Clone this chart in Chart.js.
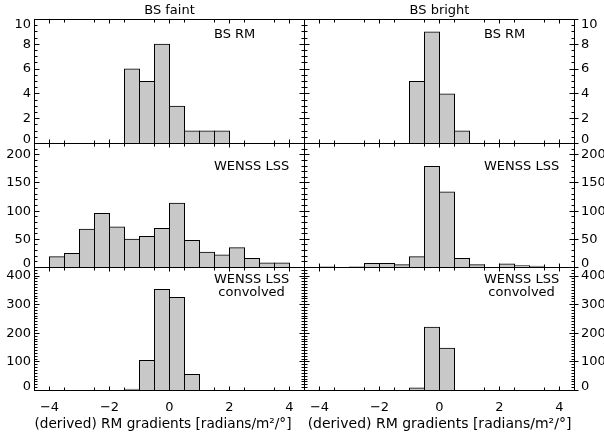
<!DOCTYPE html>
<html>
<head>
<meta charset="utf-8">
<script src="https://cdn.jsdelivr.net/npm/chart.js@4.4.1/dist/chart.umd.min.js"></script>
<style>
  html, body { margin: 0; padding: 0; background: #fff; }
  #wrap { position: relative; width: 604px; height: 437px; }
  #wrap canvas { position: absolute; left: 0; top: 0; }
</style>
</head>
<body>
<div id="wrap"></div>
<script>
// histogram bin centres (bin width 0.5) and counts, one pair per panel
const faintRmBins = [-1.25, -0.75, -0.25, 0.25, 0.75, 1.25, 1.75];
const faintRmCounts = [6, 5, 8, 3, 1, 1, 1];
const brightRmBins = [-0.75, -0.25, 0.25, 0.75];
const brightRmCounts = [5, 9, 4, 1];

const faintLssBins = [-3.75, -3.25, -2.75, -2.25, -1.75, -1.25, -0.75, -0.25,
                      0.25, 0.75, 1.25, 1.75, 2.25, 2.75, 3.25, 3.75];
const faintLssCounts = [19, 25, 68, 96, 72, 50, 55, 69, 114, 48, 27, 22, 35, 16, 8, 8];
const brightLssBins = [-3.75, -2.75, -2.25, -1.75, -1.25, -0.75, -0.25, 0.25,
                       0.75, 1.25, 2.25, 2.75, 3.25];
const brightLssCounts = [1, 1, 7, 7, 5, 19, 179, 134, 16, 5, 6, 3, 2];

const faintConvBins = [-1.25, -0.75, -0.25, 0.25, 0.75];
const faintConvCounts = [4, 105, 353, 325, 56];
const brightConvBins = [-0.75, -0.25, 0.25];
const brightConvCounts = [9, 221, 148];

const columnTitles = ['BS faint', 'BS bright'];
const rowLabels = [['BS RM'], ['WENSS LSS'], ['WENSS LSS', 'convolved']];
const xTitle = '(derived) RM gradients [radians/m²/°]';
const xMin = -4.5, xMax = 4.5;
const xMajorStep = 2, xMinorStep = 1;
const yMax = [10, 220, 430];
const yMajorStep = [2, 50, 100];
const yMinorStep = [0.5, 10, 10];

const FONT = 'DejaVu Sans';
Chart.defaults.font.family = FONT;
Chart.defaults.font.size = 13;
Chart.defaults.color = '#000';

const W = 604, H = 437;
const colEdges = [[34.5, 304.5], [304.5, 574.5]];
const rowEdges = [[19.5, 143.5], [143.5, 267.5], [267.5, 390.5]];

const panels = [
  { row: 0, col: 0, bins: faintRmBins, counts: faintRmCounts },
  { row: 0, col: 1, bins: brightRmBins, counts: brightRmCounts },
  { row: 1, col: 0, bins: faintLssBins, counts: faintLssCounts },
  { row: 1, col: 1, bins: brightLssBins, counts: brightLssCounts },
  { row: 2, col: 0, bins: faintConvBins, counts: faintConvCounts },
  { row: 2, col: 1, bins: brightConvBins, counts: brightConvCounts }
];

function minus(v) {
  return v < 0 ? '\u2212' + (-v) : String(v);
}

// scales get a fixed size so the plot box is set by the layout padding
function fixSize(px) {
  return s => {
    if (s.isHorizontal()) s.height = px; else s.width = px;
    s.paddingLeft = s.paddingRight = s.paddingTop = s.paddingBottom = 0;
  };
}

// one axis edge: tick marks only (negative length = ticks pointing into the plot)
function edge(position, min, max, step, len, size) {
  return {
    type: 'linear', position, min, max, offset: false, weight: size ? 1 : 0,
    afterFit: fixSize(size || 0),
    border: { color: '#000', width: 1 },
    grid: { offset: false, drawOnChartArea: false, drawTicks: true,
            tickLength: len, tickColor: '#000', tickWidth: 1 },
    ticks: { display: false, stepSize: step, autoSkip: false, includeBounds: false, maxRotation: 0 }
  };
}

// labels at the two ends of the y range are nudged inside the box
function yLabelFont(max) {
  return c => {
    const v = c.tick ? c.tick.value : null;
    let lh = 1.2;
    if (v === 0) lh = '8px';
    else if (v === max) lh = '10px';
    return { family: FONT, size: 13, lineHeight: lh };
  };
}
function yLabel(max) {
  return v => {
    const t = String(v);
    if (v === 0) return [t, ''];
    if (v === max) return ['', t];
    return t;
  };
}

const panelText = {
  id: 'panelText',
  afterDraw(chart, args, opts) {
    const { ctx, chartArea: a } = chart;
    ctx.save();
    ctx.font = '13px "' + FONT + '"';
    ctx.fillStyle = '#000';
    ctx.textBaseline = 'middle';
    const x0 = a.left + 179.5;
    const w0 = ctx.measureText(opts.lines[0]).width;
    opts.lines.forEach((t, i) => {
      const w = ctx.measureText(t).width;
      ctx.fillText(t, x0 + (w0 - w) / 2, a.top + opts.dy + i * 13);
    });
    ctx.restore();
  }
};
const textOffsets = [15.5, 23.5, 12.5];

const wrap = document.getElementById('wrap');

panels.forEach(p => {
  const [L, R] = colEdges[p.col];
  const [T, B] = rowEdges[p.row];
  const ymax = yMax[p.row];
  const topSize = p.row === 0 ? T : 0;
  const bottomSize = p.row === 2 ? H - B : 0;
  const leftSize = p.col === 0 ? L : 0;
  const rightSize = p.col === 1 ? W - R : 0;

  const scales = {
    x: edge('bottom', xMin, xMax, xMajorStep, -4, bottomSize),
    xMinor: edge('bottom', xMin, xMax, xMinorStep, -3),
    xTop: edge('top', xMin, xMax, xMajorStep, -4, topSize),
    xTopMinor: edge('top', xMin, xMax, xMinorStep, -3),
    y: edge('left', 0, ymax, yMajorStep[p.row], -5, leftSize),
    yMinor: edge('left', 0, ymax, yMinorStep[p.row], -3),
    yRight: edge('right', 0, ymax, yMajorStep[p.row], -5),
    yRightMinor: edge('right', 0, ymax, yMinorStep[p.row], -3)
  };

  if (p.row === 2) {
    // left caption sits a little left of the box centre (trailing no-break spaces)
    const caption = p.col === 0 ? xTitle + '\u00a0\u00a0\u00a0' : xTitle;
    Object.assign(scales.x.ticks, { display: true, padding: 13, callback: minus });
    scales.x.title = { display: true, text: caption, color: '#000',
                       font: { family: FONT, size: 14 }, padding: { top: 0, bottom: 3.8 } };
  }
  if (p.row === 0) {
    scales.xTop.title = { display: true, text: columnTitles[p.col], color: '#000',
                          font: { family: FONT, size: 13 }, padding: { top: 2.6, bottom: 0 } };
  }
  if (p.col === 0) {
    Object.assign(scales.y.ticks, { display: true, padding: 8.5,
                                    font: yLabelFont(ymax), callback: yLabel(ymax) });
  } else {
    // labelled right axis, its major ticks also poke outward
    scales.yOut = edge('right', 0, ymax, yMajorStep[p.row], 4, rightSize);
    Object.assign(scales.yOut.ticks, { display: true, padding: 2.5,
                                       font: yLabelFont(ymax), callback: yLabel(ymax) });
  }

  const canvas = document.createElement('canvas');
  canvas.width = W;
  canvas.height = H;
  wrap.appendChild(canvas);

  new Chart(canvas, {
    type: 'bar',
    data: {
      datasets: [{
        data: p.bins.map((b, i) => ({ x: b, y: p.counts[i] })),
        backgroundColor: '#c8c8c8',
        borderColor: '#000',
        borderWidth: 1,
        inflateAmount: 0.5,
        barPercentage: 1,
        categoryPercentage: 1
      }]
    },
    options: {
      responsive: false,
      animation: false,
      devicePixelRatio: 1,
      events: [],
      layout: { padding: {
        left: L - leftSize, right: W - R - rightSize,
        top: T - topSize, bottom: H - B - bottomSize
      } },
      scales,
      plugins: {
        legend: { display: false },
        tooltip: { enabled: false },
        panelText: { lines: rowLabels[p.row], dy: textOffsets[p.row] }
      }
    },
    plugins: [panelText]
  });
});
</script>
</body>
</html>
